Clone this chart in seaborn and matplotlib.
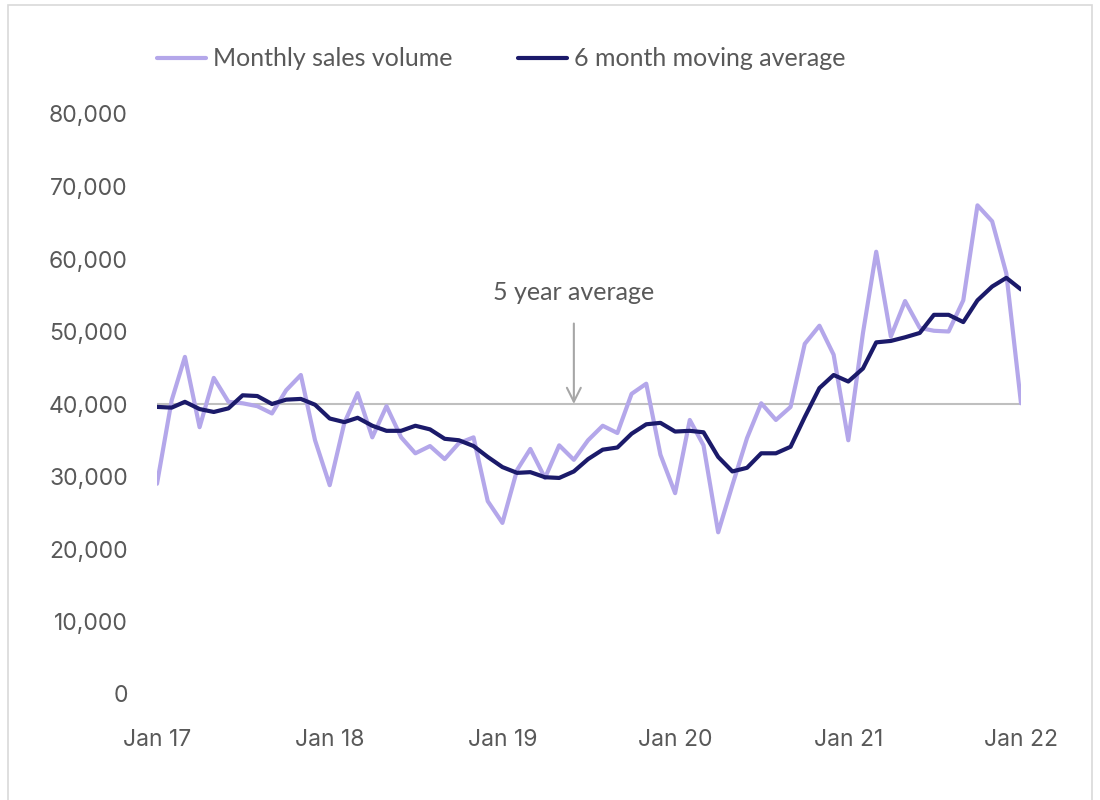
import numpy as np
import pandas as pd
import matplotlib
matplotlib.use("Agg")
import matplotlib.pyplot as plt
import matplotlib.dates as mdates
from matplotlib.patches import Rectangle
import seaborn as sns

# ------------------------------
# Data
# ------------------------------
months = pd.date_range("2017-01-01", "2022-01-01", freq="MS")

monthly_sales = [
    29000, 40500, 46500, 36800, 43600, 40300, 40100, 39700, 38700, 41900, 44000, 35000,
    28800, 37400, 41500, 35400, 39700, 35400, 33200, 34200, 32400, 34600, 35400, 26600,
    23600, 30900, 33800, 29800, 34300, 32300, 35000, 37000, 36000, 41400, 42800, 33000,
    27700, 37800, 34300, 22300, 28800, 35300, 40100, 37800, 39600, 48300, 50800, 46800,
    35000, 49800, 61000, 49300, 54200, 50500, 50100, 50000, 54300, 67400, 65200, 58000,
    40100,
]

moving_avg = [
    39600, 39500, 40300, 39300, 38900, 39400, 41200, 41100, 40000, 40600, 40700, 39900,
    38000, 37500, 38100, 37000, 36300, 36300, 37000, 36500, 35200, 35000, 34200, 32700,
    31300, 30500, 30600, 29900, 29800, 30700, 32400, 33700, 34000, 35900, 37200, 37400,
    36200, 36300, 36100, 32700, 30700, 31200, 33200, 33200, 34100, 38200, 42200, 44000,
    43100, 44900, 48500, 48700, 49200, 49800, 52300, 52300, 51300, 54300, 56200, 57400,
    55800,
]

five_year_avg = 40000
annotation_month = pd.Timestamp("2019-06-01")
series_labels = ["Monthly sales volume", "6 month moving average"]

LIGHT = "#b4a7ea"
DARK = "#1b1a6a"
TEXT = "#595959"

df = pd.DataFrame({"month": months, "sales": monthly_sales, "avg": moving_avg})

sns.set_theme(style="white")
plt.rcParams["font.family"] = ["Lato", "DejaVu Sans"]

fig = plt.figure(figsize=(11, 8), dpi=100)
ax = fig.add_axes([157 / 1100, 1 - 694 / 800, (1021 - 157) / 1100, (694 - 114) / 800])

# thin frame around the whole chart
fig.patches.append(Rectangle((8 / 1100, -0.05), (1092 - 8) / 1100, 1.05 - 5 / 800,
                             transform=fig.transFigure, fill=False,
                             edgecolor="#d9d9d9", linewidth=1.2))

# 5 year average reference line
ax.plot([months[0], months[-1]], [five_year_avg, five_year_avg],
        color="#bfbfbf", linewidth=1.5, zorder=1)

sns.lineplot(data=df, x="month", y="sales", ax=ax, color=LIGHT, linewidth=3,
             label=series_labels[0], zorder=2)
sns.lineplot(data=df, x="month", y="avg", ax=ax, color=DARK, linewidth=3,
             label=series_labels[1], zorder=3)

ax.annotate("", xy=(annotation_month, five_year_avg), xytext=(annotation_month, 51100),
            arrowprops=dict(arrowstyle="->", color="#a6a6a6", lw=1.5,
                            mutation_scale=25, shrinkA=0, shrinkB=0))
ax.text(annotation_month, 55400, "5 year average", ha="center", va="center",
        fontsize=18, color=TEXT)

ax.set_xlim(months[0], months[-1])
ax.set_ylim(0, 80000)
ax.set_yticks(np.arange(0, 80001, 10000))
ax.yaxis.set_major_formatter(matplotlib.ticker.FuncFormatter(lambda v, p: f"{v:,.0f}"))
ax.xaxis.set_major_locator(mdates.YearLocator())
ax.xaxis.set_major_formatter(mdates.DateFormatter("Jan %y"))
ax.set_xlabel("")
ax.set_ylabel("")
ax.tick_params(axis="both", length=0, labelsize=16.5, labelcolor=TEXT)
ax.tick_params(axis="y", pad=21)
ax.tick_params(axis="x", pad=25)
for lab in ax.get_xticklabels() + ax.get_yticklabels():
    lab.set_fontfamily(["Inter", "DejaVu Sans"])
sns.despine(ax=ax, left=True, bottom=True)

ax.legend(loc="center left", bbox_to_anchor=(157 / 1100, 1 - 59 / 800),
          bbox_transform=fig.transFigure, ncol=2, frameon=False, fontsize=18,
          borderpad=0, borderaxespad=0, handlelength=1.95, handletextpad=0.3,
          columnspacing=2.6, labelcolor=TEXT)

fig.savefig("out.png", dpi=100, facecolor="white")
